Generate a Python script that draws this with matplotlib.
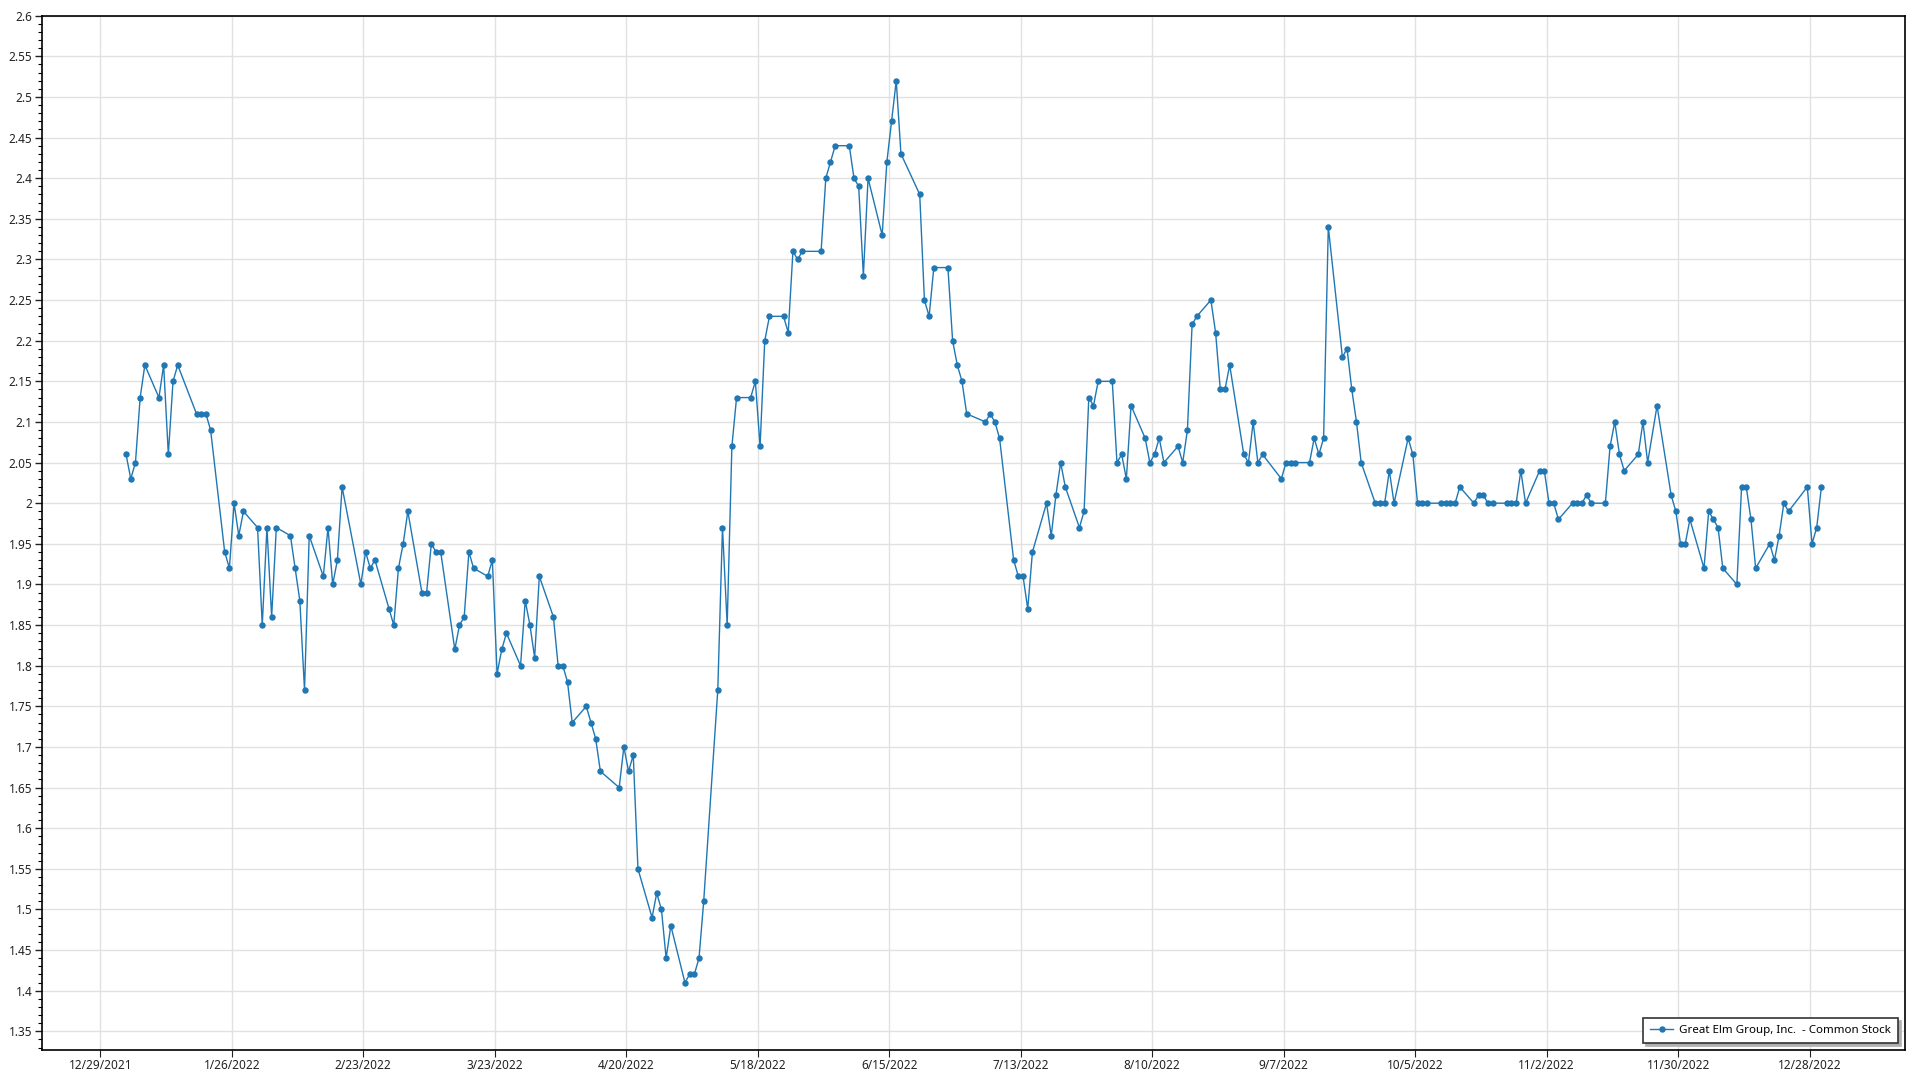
## Great Elm Group daily closing price, 2022
import datetime as dt
import matplotlib
matplotlib.use('Agg')
import matplotlib.pyplot as plt
import matplotlib.dates as mdates
import matplotlib.ticker as mticker
import pandas as pd

# NYSE holidays in 2022 (trading days are all other weekdays)
holidays = ['2022-01-17', '2022-02-21', '2022-04-15', '2022-05-30', '2022-06-20',
            '2022-07-04', '2022-09-05', '2022-11-24', '2022-12-26']

# closing prices, one list per month
jan = [2.06, 2.03, 2.05, 2.13, 2.17, 2.13, 2.17, 2.06, 2.15, 2.17, 2.11, 2.11, 2.11, 2.09,
       1.94, 1.92, 2.00, 1.96, 1.99, 1.97]
feb = [1.85, 1.97, 1.86, 1.97, 1.96, 1.92, 1.88, 1.77, 1.96, 1.91, 1.97, 1.90, 1.93, 2.02,
       1.90, 1.94, 1.92, 1.93, 1.87]
mar = [1.85, 1.92, 1.95, 1.99, 1.89, 1.89, 1.95, 1.94, 1.94, 1.82, 1.85, 1.86, 1.94, 1.92,
       1.91, 1.93, 1.79, 1.82, 1.84, 1.80, 1.88, 1.85, 1.81]
apr = [1.91, 1.86, 1.80, 1.80, 1.78, 1.73, 1.75, 1.73, 1.71, 1.67, 1.65, 1.70, 1.67, 1.69,
       1.55, 1.49, 1.52, 1.50, 1.44, 1.48]
may = [1.41, 1.42, 1.42, 1.44, 1.51, 1.77, 1.97, 1.85, 2.07, 2.13, 2.13, 2.15, 2.07, 2.20,
       2.23, 2.23, 2.21, 2.31, 2.30, 2.31, 2.31]
jun = [2.40, 2.42, 2.44, 2.44, 2.40, 2.39, 2.28, 2.40, 2.33, 2.42, 2.47, 2.52, 2.43, 2.38,
       2.25, 2.23, 2.29, 2.29, 2.20, 2.17, 2.15]
jul = [2.11, 2.10, 2.11, 2.10, 2.08, 1.93, 1.91, 1.91, 1.87, 1.94, 2.00, 1.96, 2.01, 2.05,
       2.02, 1.97, 1.99, 2.13, 2.12, 2.15]
aug = [2.15, 2.05, 2.06, 2.03, 2.12, 2.08, 2.05, 2.06, 2.08, 2.05, 2.07, 2.05, 2.09, 2.22,
       2.23, 2.25, 2.21, 2.14, 2.14, 2.17, 2.06, 2.05, 2.10]
sep = [2.05, 2.06, 2.03, 2.05, 2.05, 2.05, 2.05, 2.08, 2.06, 2.08, 2.34, 2.18, 2.19, 2.14,
       2.10, 2.05, 2.00, 2.00, 2.00, 2.04, 2.00]
oct_ = [2.08, 2.06, 2.00, 2.00, 2.00, 2.00, 2.00, 2.00, 2.00, 2.02, 2.00, 2.01, 2.01, 2.00,
        2.00, 2.00, 2.00, 2.00, 2.04, 2.00, 2.04]
nov = [2.04, 2.00, 2.00, 1.98, 2.00, 2.00, 2.00, 2.01, 2.00, 2.00, 2.07, 2.10, 2.06, 2.04,
       2.06, 2.10, 2.05, 2.12, 2.01, 1.99, 1.95]
dec = [1.95, 1.98, 1.92, 1.99, 1.98, 1.97, 1.92, 1.90, 2.02, 2.02, 1.98, 1.92, 1.95, 1.93,
       1.96, 2.00, 1.99, 2.02, 1.95, 1.97, 2.02]

series_name = 'Great Elm Group, Inc.  - Common Stock'
first_tick = dt.datetime(2021, 12, 29)

prices = jan + feb + mar + apr + may + jun + jul + aug + sep + oct_ + nov + dec
days = pd.bdate_range('2022-01-03', '2022-12-30', freq='C', holidays=holidays)
times = days + pd.Timedelta(hours=12)

fig = plt.figure(figsize=(19.2, 10.8), dpi=100)
ax = fig.add_axes([42/1920, 1 - 1050/1080, (1905 - 42)/1920, (1050 - 15.7)/1080])

ax.plot(times, prices, color='#1f77b4', lw=1.0, marker='o', ms=3.6,
        mec='#1f77b4', mfc='#1f77b4', label=series_name, zorder=3)

# axis ranges
ax.set_xlim(first_tick - dt.timedelta(days=12.4), first_tick + dt.timedelta(days=384.3))
ax.set_ylim(1.327, 2.6)

# ticks: every 4 weeks on x, 0.05 on y with 0.01 minors
xticks = [first_tick + dt.timedelta(days=28*i) for i in range(14)]
ax.xaxis.set_major_locator(mticker.FixedLocator(mdates.date2num(xticks)))
ax.xaxis.set_major_formatter(mticker.FuncFormatter(
    lambda v, p: '{d.month}/{d.day}/{d.year}'.format(d=mdates.num2date(v))))
ax.yaxis.set_major_locator(mticker.MultipleLocator(0.05))
ax.yaxis.set_minor_locator(mticker.MultipleLocator(0.01))
ax.yaxis.set_major_formatter(mticker.FuncFormatter(lambda v, p: '%g' % round(v, 2)))

ax.tick_params(axis='both', labelsize=8.5, colors='#222222', labelcolor='#222222')
ax.tick_params(axis='y', which='major', length=5, width=1, pad=2)
ax.tick_params(axis='y', which='minor', length=3, width=0.8)
ax.tick_params(axis='x', which='major', length=5, width=0.8, pad=1.5)
for lab in ax.get_xticklabels() + ax.get_yticklabels():
    lab.set_family(['Noto Sans', 'DejaVu Sans'])

ax.grid(True, which='major', color='#e1e1e1', lw=1.0, zorder=0)
for s in ax.spines.values():
    s.set_color('black')
    s.set_linewidth(1.2)

leg = ax.legend(loc='lower right', bbox_to_anchor=(1 - 7/1863, 7/1034.3), borderaxespad=0,
                fancybox=False, shadow={'color': '#b0b0b0', 'alpha': 1}, framealpha=1,
                edgecolor='#333333', handlelength=2.0, handletextpad=0.5,
                prop={'family': ['Noto Sans', 'DejaVu Sans'], 'size': 8.3},
                borderpad=0.6)
leg.get_frame().set_linewidth(1.2)

fig.savefig('out.png', dpi=100)
